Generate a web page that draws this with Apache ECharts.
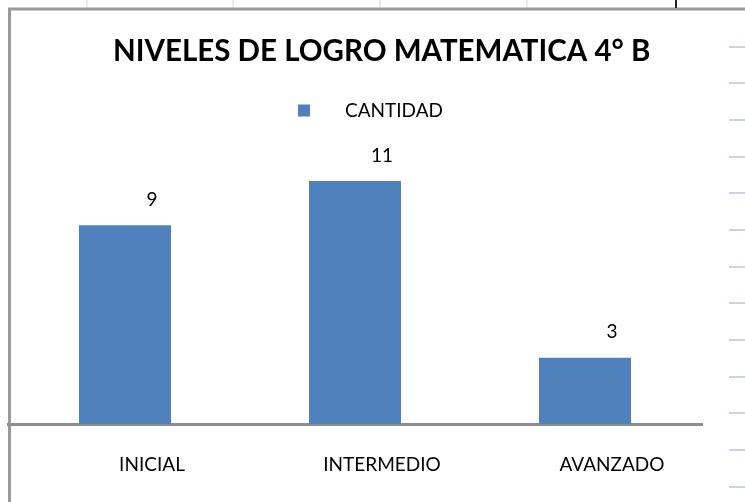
<!DOCTYPE html>
<html>
<head>
<meta charset="utf-8">
<script src="https://cdn.jsdelivr.net/npm/echarts@6/dist/echarts.min.js"></script>
<style>
  html, body { margin: 0; padding: 0; background: #fff; }
  #main { width: 745px; height: 502px; }
</style>
</head>
<body>
<div id="main"></div>
<script>
var categories = ['INICIAL', 'INTERMEDIO', 'AVANZADO'];
var cantidad = [9, 11, 3];
var seriesName = 'CANTIDAD';
var titleText = 'NIVELES DE LOGRO MATEMATICA 4° B';

var myChart = echarts.init(document.getElementById('main'));

// hojas de calculo de fondo (lineas de celdas)
var sheetLines = [];
[87, 233, 380, 527].forEach(function (x) {
    sheetLines.push({
        type: 'line',
        shape: { x1: x, y1: 0, x2: x, y2: 8 },
        style: { stroke: '#d0d8e6', lineWidth: 1 }
    });
});
[47, 83, 120, 157, 193, 230, 267, 303, 340, 377, 413, 450, 487].forEach(function (y) {
    sheetLines.push({
        type: 'line',
        shape: { x1: 729, y1: y, x2: 745, y2: y },
        style: { stroke: '#c9d3e3', lineWidth: 2 }
    });
});

var option = {
    backgroundColor: '#fff',
    animation: false,
    title: {
        text: titleText,
        left: 108,
        top: 31,
        textStyle: {
            fontFamily: 'Lato',
            fontWeight: 'bold',
            fontSize: 29.5,
            color: '#000'
        }
    },
    legend: {
        top: 96,
        left: 293,
        icon: 'rect',
        itemWidth: 12,
        itemHeight: 12,
        textStyle: {
            fontFamily: 'Lato',
            fontSize: 19,
            color: '#000',
            padding: [0, 0, 0, 30]
        },
        data: [seriesName]
    },
    grid: {
        left: 10,
        width: 690,
        top: 159,
        height: 265
    },
    xAxis: {
        type: 'category',
        data: categories,
        axisLine: {
            show: true,
            lineStyle: { color: '#8e8e8e', width: 3 }
        },
        axisTick: { show: false },
        axisLabel: {
            margin: 31,
            padding: [0, 0, 0, 54],
            fontFamily: 'Lato',
            fontSize: 19,
            color: '#000'
        }
    },
    yAxis: {
        type: 'value',
        min: 0,
        max: 12,
        interval: 1,
        show: false,
        splitLine: { show: false }
    },
    series: [
        {
            name: seriesName,
            type: 'bar',
            barWidth: 92,
            itemStyle: { color: '#4f81bd' },
            label: {
                show: true,
                position: 'top',
                offset: [27, -11],
                fontFamily: 'Lato',
                fontSize: 19,
                color: '#000'
            },
            data: cantidad
        }
    ],
    graphic: sheetLines.concat([
        {
            type: 'polyline',
            shape: { points: [[9.5, 502], [9.5, 9], [745, 9]] },
            style: { stroke: '#9a9a9a', lineWidth: 3, fill: null }
        },
        {
            type: 'line',
            shape: { x1: 7, y1: 424.5, x2: 10, y2: 424.5 },
            style: { stroke: '#8e8e8e', lineWidth: 3 }
        },
        {
            type: 'line',
            shape: { x1: 700, y1: 424.5, x2: 703, y2: 424.5 },
            style: { stroke: '#8e8e8e', lineWidth: 3 }
        },
        {
            type: 'rect',
            shape: { x: 675, y: 0, width: 2, height: 8 },
            style: { fill: '#222' }
        }
    ])
};
myChart.setOption(option);
</script>
</body>
</html>
